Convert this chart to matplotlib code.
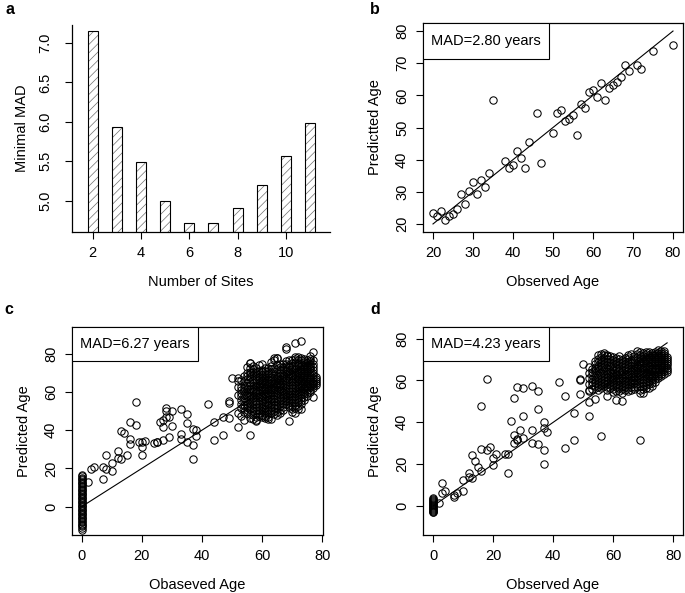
import matplotlib
matplotlib.use("Agg")
import matplotlib.pyplot as plt
from matplotlib.patches import Rectangle

plt.rcParams['font.family'] = ['Liberation Sans', 'DejaVu Sans']
plt.rcParams['hatch.linewidth'] = 0.5

# panel a
n_sites = [2, 3, 4, 5, 6, 7, 8, 9, 10, 11]
min_mad = [7.15, 5.93, 5.49, 4.99, 4.72, 4.71, 4.90, 5.20, 5.56, 5.99]

# panel b
b_obs = [20, 21, 22, 23, 24, 25, 26, 27, 28, 29, 30, 31, 32, 33, 34, 35, 38, 39, 40, 41,
         42, 43, 44, 46, 47, 50, 51, 52, 53, 54, 55, 56, 57, 58, 59, 60, 61, 62, 63, 64,
         65, 66, 67, 68, 69, 71, 72, 75, 80]
b_pred = [23.4, 22.6, 24.0, 21.3, 22.4, 23.2, 24.5, 29.2, 26.3, 30.1, 33.2, 29.2, 33.8, 31.5,
          35.7, 58.5, 39.6, 37.3, 38.4, 42.7, 40.5, 37.5, 45.6, 54.6, 38.9, 48.4, 54.4, 55.4,
          51.9, 52.7, 54.0, 47.7, 57.3, 56.2, 61.0, 61.6, 59.4, 63.7, 58.7, 62.3, 63.3, 64.3,
          65.8, 69.3, 67.5, 69.3, 68.1, 73.7, 75.8]

# panel c: children at age 0, scattered points, dense adult cluster
c_zero_pred = [-12.1, -11.0, -10.2, -9.5, -8.9, -8.1, -7.4, -6.6, -6.0, -5.2, -4.5, -3.9,
               -3.1, -2.4, -1.8, -1.0, -0.3, 0.4, 1.1, 1.7, 2.5, 3.2, 3.8, 4.6, 5.3, 5.9,
               6.7, 7.4, 8.0, 8.8, 9.5, 10.1, 10.9, 11.6, 12.2, 13.0, 13.7, 14.3, 15.1,
               15.8, 16.4]
c_obs = [2, 3, 4, 7, 7, 8, 8, 10, 10, 12, 12, 13, 13, 14, 15, 16, 16, 16, 18, 18, 19, 20,
         20, 20, 21, 24, 25, 25, 26, 27, 27, 28, 28, 28, 29, 29, 30, 30, 27, 33, 33, 33, 35,
         35, 35, 37, 38, 37, 37, 38, 42, 44, 44, 47, 47, 49, 49, 49, 50, 52, 52, 52, 52, 52,
         52, 56, 58, 56, 64, 65, 68, 68, 71, 73, 77, 69, 77, 73, 65, 61, 62]
c_pred = [12.7, 19.5, 20.9, 20.5, 14.3, 19.5, 27.1, 18.8, 22.6, 28.9, 25.4, 24.7, 39.3, 38.6,
          26.8, 35.3, 32.5, 44.2, 42.8, 54.6, 33.7, 33.9, 31.1, 27.1, 34.1, 33.4, 33.6, 33.9,
          44.2, 45.2, 34.6, 50.1, 51.7, 47.0, 47.0, 36.2, 50.1, 42.3, 41.4, 51.0, 37.9, 35.3,
          48.2, 43.8, 33.9, 40.7, 40.0, 32.2, 24.9, 36.9, 53.9, 44.3, 34.8, 37.6, 47.0, 46.1,
          54.4, 55.1, 67.3, 41.6, 48.7, 62.6, 65.6, 67.5, 58.3, 37.7, 45.2, 75.3, 77.9, 77.9,
          82.6, 83.5, 85.6, 86.6, 80.9, 44.9, 57.4, 51.3, 47.8, 46.1, 45.6]
c_cluster_ages = list(range(53, 79))
c_cluster_preds = [
    [47.2, 51.8, 55.6, 59.3, 62.4, 66.1, 53.5, 57.6, 60.8],
    [45.3, 49.6, 53.1, 56.8, 60.2, 63.7, 68.4, 51.4, 55.2, 58.3, 61.9, 65.8],
    [48.7, 52.3, 55.1, 57.9, 61.4, 63.2, 66.5, 70.1, 72.8, 50.4, 53.7, 59.6, 64.8, 68.2],
    [46.5, 50.8, 54.2, 56.3, 59.1, 61.7, 65.3, 67.9, 70.6, 74.9, 48.6, 52.6, 57.8, 60.4,
     63.5, 69.2, 72.3],
    [45.8, 49.9, 53.4, 56.7, 60.2, 63.1, 66.4, 68.8, 71.9, 73.6, 48.1, 51.7, 55.2, 58.4,
     61.6, 64.8, 70.3],
    [44.9, 49.2, 52.1, 55.4, 57.8, 60.9, 63.6, 66.8, 69.7, 72.5, 47.1, 50.6, 53.9, 59.2,
     62.3, 65.1, 68.2, 71.1],
    [47.4, 50.6, 53.8, 56.9, 59.4, 62.3, 64.8, 67.6, 70.9, 73.8, 49.0, 52.2, 55.4, 58.1,
     60.8, 63.5, 66.2, 69.3],
    [48.1, 50.2, 52.7, 55.8, 58.6, 61.2, 63.9, 66.3, 68.7, 71.6, 74.5, 46.9, 51.5, 54.3,
     57.2, 59.9, 62.6, 65.1, 67.5, 70.2],
    [47.3, 49.1, 51.8, 54.6, 57.7, 60.4, 62.8, 65.1, 67.9, 70.8, 50.5, 53.2, 56.1, 59.1,
     61.6, 64.0, 66.5, 69.3, 72.4],
    [46.9, 49.8, 52.9, 55.6, 58.3, 61.0, 63.7, 66.6, 69.5, 72.7, 48.4, 51.3, 54.2, 57.0,
     59.6, 62.4, 65.2, 68.0, 71.1],
    [45.7, 50.7, 53.6, 56.5, 59.8, 62.1, 64.6, 67.8, 71.8, 75.6, 49.2, 52.1, 55.0, 58.2,
     61.0, 63.3, 66.2, 69.9, 73.5],
    [48.3, 51.6, 54.7, 57.6, 60.8, 63.4, 65.9, 68.9, 72.6, 76.8, 50.0, 53.1, 56.2, 59.2,
     62.1, 64.6, 67.4, 70.7],
    [49.6, 53.2, 56.8, 59.6, 62.3, 64.7, 67.2, 69.8, 73.9, 77.6, 51.4, 55.0, 58.2, 61.0,
     63.5, 66.0, 68.5, 71.9],
    [48.8, 52.5, 55.7, 58.8, 61.6, 64.2, 66.9, 69.6, 72.8, 50.7, 54.1, 57.2, 60.2, 63.0,
     65.6, 68.2, 71.2, 74.5],
    [50.6, 53.9, 56.6, 59.7, 62.7, 65.8, 68.5, 71.7, 74.6, 52.2, 55.3, 58.2, 61.2, 64.2,
     67.1, 70.1, 73.1],
    [53.7, 56.4, 58.9, 61.8, 64.6, 67.5, 70.7, 73.5, 76.2, 55.1, 57.6, 60.3, 63.2, 66.0,
     69.1, 72.1, 74.8],
    [51.9, 54.8, 57.7, 60.6, 63.8, 66.7, 69.4, 72.9, 53.3, 56.2, 59.1, 62.2, 65.3, 68.1,
     70.9, 74.2, 76.8],
    [49.5, 52.8, 55.9, 58.7, 61.9, 64.9, 67.6, 70.5, 73.6, 76.9, 51.2, 54.3, 57.3, 60.3,
     63.4, 66.3, 69.0, 72.1, 75.2],
    [48.9, 51.7, 54.6, 57.8, 60.7, 63.6, 66.8, 69.9, 72.7, 75.8, 78.3, 53.1, 56.2, 59.3,
     62.2, 65.2, 68.3, 71.3, 74.2, 77.1],
    [50.8, 54.6, 57.5, 59.9, 62.8, 65.7, 67.9, 70.6, 73.8, 76.7, 52.7, 56.0, 58.7, 61.3,
     64.2, 66.8, 69.2, 72.2, 75.3, 78.2],
    [53.9, 56.7, 59.8, 62.6, 64.9, 67.7, 69.8, 71.9, 74.8, 77.9, 55.3, 58.2, 61.2, 63.8,
     66.3, 68.8, 70.9, 73.3, 76.4],
    [55.8, 58.7, 61.6, 63.9, 66.8, 68.6, 70.9, 72.8, 75.7, 57.2, 60.1, 62.8, 65.3, 67.7,
     69.8, 71.9, 74.3, 77.2],
    [57.6, 60.8, 62.9, 65.8, 67.7, 69.9, 71.8, 73.9, 76.8, 59.2, 61.9, 64.3, 66.8, 68.8,
     70.9, 72.9, 75.3],
    [59.7, 62.6, 64.8, 66.9, 68.8, 71.7, 73.6, 75.9, 78.8, 61.1, 63.7, 65.9, 67.9, 70.3,
     72.6, 74.8, 77.3],
    [61.8, 63.9, 65.7, 68.7, 71.6, 74.8, 62.9, 64.8, 67.2, 70.1, 73.2, 76.4],
    [63.7, 65.9, 67.8, 64.8, 66.9],
]

# panel d
d_zero_pred = [-3.2, -2.8, -2.3, -1.9, -1.4, -1.0, -0.6, -0.1, 0.3, 0.8, 1.2, 1.7, 2.1,
               2.6, 3.0, 3.5]
d_obs = [2, 3, 3, 4, 7, 7, 8, 10, 10, 12, 12, 13, 13, 14, 15, 16, 16, 16, 18, 18, 19, 20,
         20, 21, 24, 25, 25, 26, 27, 27, 27, 28, 28, 28, 29, 30, 30, 30, 33, 33, 33, 35, 35,
         35, 37, 37, 37, 37, 38, 42, 44, 44, 47, 47, 49, 49, 49, 50, 52, 52, 52, 54, 56, 58,
         61, 63, 69]
d_pred = [1.1, 6.2, 10.7, 7.2, 4.3, 5.3, 6.2, 7.2, 12.3, 15.5, 13.9, 13.2, 24.1, 21.5, 18.6,
          16.7, 47.6, 27.3, 26.6, 60.7, 28.2, 23.1, 19.6, 24.7, 25.0, 25.0, 15.5, 40.6, 51.8,
          33.9, 30.1, 56.9, 31.4, 32.0, 36.5, 56.6, 43.2, 32.4, 57.2, 36.2, 30.1, 55.0, 46.4,
          29.5, 40.0, 37.1, 26.9, 19.9, 35.2, 59.4, 52.4, 27.6, 44.5, 31.7, 60.7, 60.1, 53.4,
          68.0, 43.2, 49.6, 55.0, 51.2, 33.3, 52.7, 50.5, 50.0, 31.7]
d_cluster_ages = list(range(52, 79))
d_cluster_preds = [
    [55.2, 61.4, 66.3, 58.3, 63.8],
    [56.1, 59.3, 62.5, 65.4, 57.8, 60.9, 63.9],
    [57.3, 60.1, 63.4, 66.2, 69.5, 58.7, 61.8, 64.8, 67.8],
    [55.4, 58.2, 61.3, 64.6, 67.1, 70.4, 56.8, 59.7, 62.8, 65.9, 68.7, 72.3],
    [56.3, 59.5, 62.2, 65.3, 68.4, 71.2, 57.9, 60.8, 63.7, 66.8, 69.9, 72.6],
    [57.2, 60.4, 63.1, 66.5, 69.3, 72.1, 58.7, 61.8, 64.7, 67.8, 70.7, 73.3],
    [55.6, 58.1, 61.5, 64.2, 67.4, 70.1, 72.4, 56.9, 59.8, 62.9, 65.7, 68.8, 71.6],
    [56.4, 59.2, 62.3, 64.5, 67.2, 70.3, 57.8, 60.7, 63.8, 66.3, 68.9, 71.8],
    [54.3, 57.4, 60.2, 62.6, 65.1, 68.2, 71.3, 55.7, 58.8, 61.3, 63.8, 66.7, 69.8],
    [55.1, 58.3, 61.2, 63.4, 66.1, 69.4, 56.7, 59.8, 62.6, 64.8, 67.7, 70.8],
    [56.2, 59.1, 61.4, 64.3, 67.5, 70.2, 54.9, 57.7, 60.3, 62.9, 65.8, 68.8, 71.7],
    [54.2, 57.3, 60.1, 62.4, 65.2, 68.3, 55.8, 58.8, 61.3, 63.9, 66.8, 69.9],
    [55.3, 58.4, 61.1, 63.3, 66.4, 69.1, 56.9, 59.8, 62.4, 64.8, 67.7, 70.6],
    [56.4, 59.2, 62.1, 64.4, 67.3, 70.1, 72.2, 54.8, 57.8, 60.7, 63.3, 65.9, 68.7, 71.4],
    [55.2, 58.1, 60.4, 63.2, 65.4, 68.2, 56.7, 59.5, 61.8, 64.6, 66.9, 69.8, 72.7],
    [57.1, 60.2, 62.3, 65.1, 67.4, 70.3, 55.9, 58.6, 61.2, 63.8, 66.2, 68.9, 71.8],
    [58.2, 61.1, 63.4, 66.2, 68.1, 71.3, 74.1, 56.8, 59.7, 62.2, 64.9, 67.0, 69.7, 72.6],
    [55.3, 59.2, 62.1, 64.3, 67.2, 69.4, 72.1, 53.8, 57.3, 60.6, 63.3, 65.8, 68.3, 70.8,
     73.5],
    [54.1, 57.3, 60.2, 63.1, 65.3, 68.2, 70.4, 73.2, 55.7, 58.6, 61.5, 64.2, 66.6, 69.2,
     71.7],
    [56.2, 59.1, 62.3, 64.1, 66.4, 69.2, 71.3, 73.4, 57.6, 60.6, 63.3, 65.6, 67.8, 70.3,
     72.6],
    [58.1, 61.3, 63.2, 65.4, 67.1, 70.2, 72.3, 56.6, 59.6, 62.2, 64.4, 66.4, 68.8, 71.1,
     73.6],
    [57.4, 60.1, 62.2, 64.3, 66.1, 68.4, 71.2, 73.1, 58.7, 61.2, 63.3, 65.3, 67.4, 69.6,
     72.3],
    [59.2, 62.1, 64.3, 66.2, 68.3, 70.1, 72.4, 60.6, 63.1, 65.3, 67.2, 69.2, 71.3, 73.6],
    [61.1, 63.2, 65.4, 67.3, 69.1, 71.2, 73.3, 62.2, 64.2, 66.2, 68.3, 70.2, 72.4, 74.4],
    [62.2, 64.1, 66.3, 68.2, 70.4, 72.1, 74.2, 63.3, 65.2, 67.3, 69.2, 71.3, 73.2],
    [63.1, 65.3, 67.2, 69.1, 71.3, 73.2, 64.3, 66.3, 68.3, 70.4, 72.3, 74.3],
    [64.2, 66.1, 68.3, 70.2, 65.2, 67.2, 69.3, 71.1],
]

W, H = 685, 593
fig = plt.figure(figsize=(W / 100, H / 100), dpi=100)


def px_axes(l, t, r, b):
    return fig.add_axes([l / W, 1 - b / H, (r - l) / W, (b - t) / H])


def style(ax, w, h, xlabel, ylabel, ypad=5, ylab_off=48):
    for s in ax.spines.values():
        s.set_linewidth(0.9)
    ax.tick_params(direction='out', length=5, width=0.8, labelsize=10.5, pad=5)
    ax.tick_params(axis='y', pad=ypad)
    for lab in ax.get_yticklabels():
        lab.set_rotation(90)
        lab.set_va('center')
    ax.set_xlabel(xlabel, fontsize=10.5)
    ax.set_ylabel(ylabel, fontsize=10.5)
    ax.xaxis.set_label_coords(0.5, -50 / h)
    ax.yaxis.set_label_coords(-ylab_off / w, 0.5)
    ax.xaxis.label.set_va('center')
    ax.yaxis.label.set_va('center')


def mad_box(ax, w, h, bw, bh, text):
    ax.add_patch(Rectangle((0, 1 - bh / h), bw / w, bh / h, transform=ax.transAxes,
                           facecolor='white', edgecolor='black', linewidth=0.8, zorder=4))
    ax.text(bw / w / 2, 1 - bh / h / 2, text, transform=ax.transAxes, ha='center',
            va='center', fontsize=10.5, zorder=5)


def scatter(ax, x, y):
    ax.plot(x, y, ls='', marker='o', ms=5.3, mfc='none', mec='black', mew=0.75)


# a
ax = px_axes(72, 25, 330, 232)
ax.bar(n_sites, min_mad, width=0.41, color='white', edgecolor='#707070', hatch='////',
       linewidth=0)
ax.bar(n_sites, min_mad, width=0.41, fill=False, edgecolor='black', linewidth=0.8)
ax.set_xlim(1.14, 11.83)
ax.set_ylim(4.60, 7.23)
ax.set_xticks([2, 4, 6, 8, 10])
ax.set_yticks([5.0, 5.5, 6.0, 6.5, 7.0])
ax.set_yticklabels(['5.0', '5.5', '6.0', '6.5', '7.0'])
ax.spines['top'].set_visible(False)
ax.spines['right'].set_visible(False)
style(ax, 258, 207, 'Number of Sites', 'Minimal MAD', ypad=9, ylab_off=50)

# b
ax = px_axes(423, 23, 683, 232)
scatter(ax, b_obs, b_pred)
ax.plot([min(b_obs), max(b_obs)], [min(b_obs), max(b_obs)], color='black', lw=0.8)
ax.set_xlim(17.5, 82.5)
ax.set_ylim(17.5, 82.5)
ax.set_xticks(range(20, 81, 10))
ax.set_yticks(range(20, 81, 10))
style(ax, 260, 209, 'Observed Age', 'Predictted Age')
mad_box(ax, 260, 209, 125.7, 36, 'MAD=2.80 years')

# c
c_all_x = [0] * len(c_zero_pred) + c_obs
c_all_y = c_zero_pred + c_pred
for age, preds in zip(c_cluster_ages, c_cluster_preds):
    c_all_x += [age] * len(preds)
    c_all_y += preds
ax = px_axes(72, 327, 323, 535)
scatter(ax, c_all_x, c_all_y)
ax.plot([0, 77], [0, 77], color='black', lw=0.8)
ax.set_xlim(-3.2, 80.2)
ax.set_ylim(-14.8, 93.9)
ax.set_xticks(range(0, 81, 20))
ax.set_yticks(range(0, 81, 20))
style(ax, 251, 208, 'Obaseved Age', 'Predicted Age')
mad_box(ax, 251, 208, 126, 34.3, 'MAD=6.27 years')

# d
d_all_x = [0] * len(d_zero_pred) + d_obs
d_all_y = d_zero_pred + d_pred
for age, preds in zip(d_cluster_ages, d_cluster_preds):
    d_all_x += [age] * len(preds)
    d_all_y += preds
ax = px_axes(423, 327, 683, 535)
scatter(ax, d_all_x, d_all_y)
ax.plot([0, 78], [0, 78], color='black', lw=0.8)
ax.set_xlim(-3.5, 83.3)
ax.set_ylim(-14.0, 85.6)
ax.set_xticks(range(0, 81, 20))
ax.set_yticks(range(0, 81, 20))
style(ax, 260, 208, 'Observed Age', 'Predicted Age')
mad_box(ax, 260, 208, 125.7, 34.3, 'MAD=4.23 years')

for lbl, x, y in [('a', 5, 10), ('b', 370, 10), ('c', 4, 310), ('d', 370, 310)]:
    fig.text(x / W, 1 - y / H, lbl, fontsize=11.5, fontweight='bold', ha='left', va='center')

fig.savefig('out.png', dpi=100)
